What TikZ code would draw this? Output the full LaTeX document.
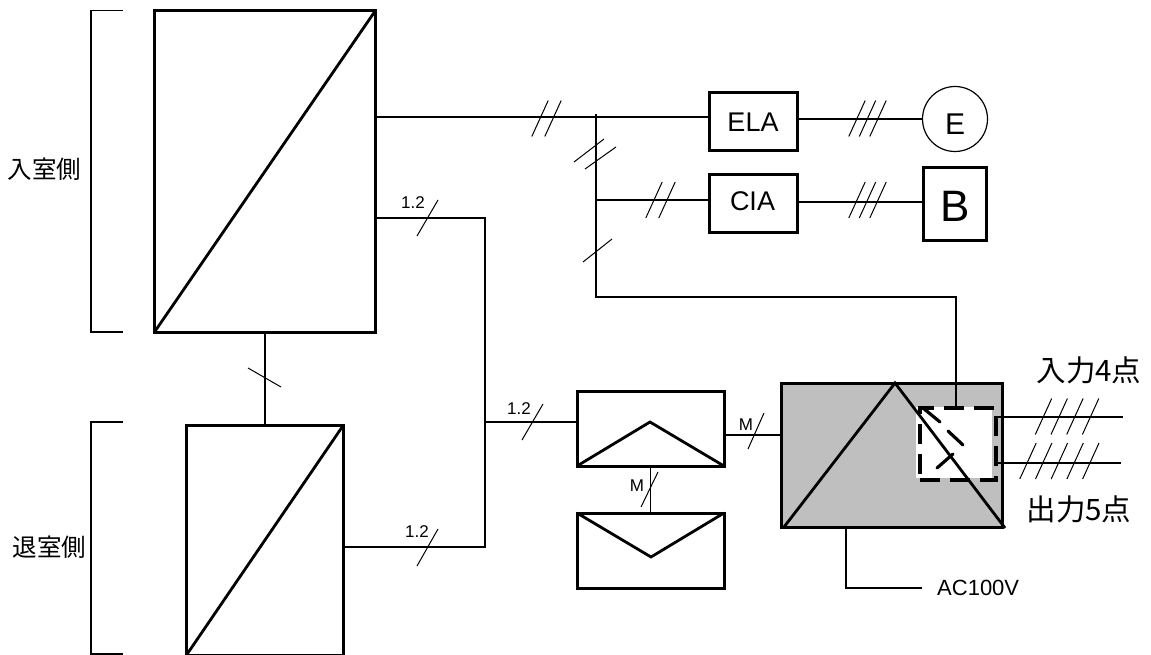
\documentclass[tikz,border=0pt]{standalone}
\usepackage{fontspec}
\setmainfont{Liberation Sans}
\newfontfamily\cjk{Noto Sans CJK JP}
\tikzset{
  thickbox/.style={rectangle,draw=black,line width=3pt,fill=white,inner sep=0pt,outer sep=0pt},
  wire/.style={draw=black,line width=1.2pt},
  slash/.style={draw=black,line width=1pt},
  thickline/.style={draw=black,line width=2.8pt},
  lab/.style={inner sep=0pt,font=\fontsize{17}{20}\selectfont},
  boxtext/.style={inner sep=0pt,font=\fontsize{27}{30}\selectfont},
  side/.style={inner sep=0pt,font=\fontsize{24.5}{27}\cjk},
  big/.style={inner sep=0pt,font=\fontsize{29.5}{32}\cjk},
}
\newcommand{\slashes}[4]{% x of first slash's centre, y, count, step
  \foreach \i in {1,...,#3}{\draw[slash] ({#1+(\i-1)*#4-8.2},{#2+18}) -- ({#1+(\i-1)*#4+8.2},{#2-18});}}
\begin{document}
\begin{tikzpicture}[x=1pt,y=-1pt]
\useasboundingbox (0,0) rectangle (1151,655);
% brackets
\coordinate (bk1a) at (123,10.5); \coordinate (bk1b) at (91,10.5); \coordinate (bk1c) at (91,332); \coordinate (bk1d) at (123,332);
\coordinate (bk2a) at (123,422); \coordinate (bk2b) at (91,422); \coordinate (bk2c) at (91,654); \coordinate (bk2d) at (123,654);
\draw[wire] (bk1a) -- (bk1b) -- (bk1c) -- (bk1d);
\draw[wire] (bk2a) -- (bk2b) -- (bk2c) -- (bk2d);
\node[side] (lin) at (44.7,169) {入室側};
\node[side] (lout) at (49.5,547) {退室側};
% main blocks
\node[thickbox,minimum width=221pt,minimum height=321.5pt] (entry) at (265,171.25) {};
\draw[thickline] (entry.south west) -- (entry.north east);
\node[thickbox,minimum width=157pt,minimum height=230pt] (exit) at (265,540) {};
\draw[thickline] (exit.south west) -- (exit.north east);
\draw[wire] (entry.south) -- (exit.north);
\draw[slash] (248,368) -- (281,387);
% blocks of the top right
\node[thickbox,minimum width=88pt,minimum height=58pt,boxtext] (ela) at (753,122) {ELA};
\node[thickbox,minimum width=88pt,minimum height=58pt,boxtext] (cia) at (753,204) {};
\node[boxtext] (cialab) at (752.5,201.7) {CIA};
\node[circle,draw=black,line width=1.2pt,fill=white,minimum width=65pt,inner sep=0,outer sep=0] (e) at (955,119) {};
\node[inner sep=0,font=\fontsize{30}{34}\selectfont] (elab) at (955,124) {E};
\node[thickbox,minimum width=63pt,minimum height=72pt] (b) at (955,204) {};
\node[inner sep=0,font=\fontsize{44}{48}\selectfont] (blab) at (955,206) {B};
% gray block and the small blocks
\node[rectangle,draw=black,fill=black!25,line width=3pt,minimum width=221pt,minimum height=144pt,inner sep=0,outer sep=0] (proc) at (891.5,455) {};
\node[fill=white,inner sep=0,outer sep=0,minimum width=76pt,minimum height=71pt] (pw) at (954,442.5) {};
\coordinate (apex) at (895,383); \coordinate (procl) at (784,527); \coordinate (procr) at (1005,528);
\draw[thickline] (procl) -- (apex) -- (procr);
\node[draw=black,line width=3.6pt,dash pattern=on 20pt off 10pt,minimum width=76pt,minimum height=72pt,inner sep=0,outer sep=0] (pd) at (958,444) {};
\coordinate (d1) at (923,408); \coordinate (d2) at (940,422); \coordinate (d3) at (948,431); \coordinate (d4) at (963,445);
\coordinate (d5) at (937,468); \coordinate (d6) at (953,454);
\draw[thickline,line width=3.2pt,line cap=round] (d1) -- (d2) (d3) -- (d4) (d5) -- (d6);
\node[thickbox,minimum width=147pt,minimum height=75pt] (up) at (650.5,428.5) {};
\coordinate (uppk) at (650,422);
\draw[thickline] (up.south west) -- (uppk) -- (up.south east);
\node[thickbox,minimum width=147pt,minimum height=75pt] (dn) at (650.5,550.5) {};
\coordinate (dnpk) at (651,557);
\draw[thickline] (dn.north west) -- (dnpk) -- (dn.north east);
% top bus
\coordinate (jt) at (596,117); \coordinate (jtop) at (596,114); \coordinate (jm) at (596,200);
\coordinate (jb) at (596,297); \coordinate (jr) at (956,297); \coordinate (jd) at (956,407);
\draw[wire] (entry.east |- jt) -- (ela.west |- jt);
\draw[wire] (jtop) -- (jb) -- (jr) -- (jd);
\draw[wire] (jm) -- (cia.west |- jm);
\draw[wire] (ela.east |- e.west) -- (e.west);
\coordinate (bw) at (955,202);
\draw[wire] (cia.east |- bw) -- (b.west |- bw);
\slashes{540}{118.5}{2}{13}
\slashes{654}{200}{2}{13}
\slashes{857}{118.5}{3}{10.5}
\slashes{857}{200}{3}{10.5}
\draw[slash] (574,162) -- (604,139);
\draw[slash] (585,169) -- (616,147);
\draw[slash] (583,262) -- (612,239);
% 1.2 routes
\coordinate (r1) at (485,218); \coordinate (r2) at (485,547); \coordinate (r3) at (485,422);
\draw[wire] (entry.east |- r1) -- (r1) -- (r2) -- (exit.east |- r2);
\draw[wire] (r3) -- (up.west |- r3);
\draw[slash] (417,236) -- (438,200);
\draw[slash] (522,440) -- (543,404);
\draw[slash] (417,566) -- (438,529);
\node[lab] (t1) at (413,203) {1.2};
\node[lab] (t2) at (519,409) {1.2};
\node[lab] (t3) at (417,532) {1.2};
% M links
\draw[wire] (up.south) -- (dn.north);
\draw[slash] (641,507) -- (658,472);
\node[lab] (m1) at (637,486) {M};
\coordinate (ml) at (724,435);
\draw[wire] (ml) -- (proc.west |- ml);
\draw[slash] (748,449) -- (764,413);
\node[lab] (m2) at (746,425) {M};
% output lines
\coordinate (o1a) at (997,417); \coordinate (o1b) at (1123,417);
\coordinate (o2a) at (995,463); \coordinate (o2b) at (1121,463);
\draw[wire] (o1a) -- (o1b);
\draw[wire] (o2a) -- (o2b);
\slashes{1043.5}{416.5}{4}{15.7}
\slashes{1028}{461}{5}{15.7}
\node[big] (in4) at (1089,370.5) {入力4点};
\node[big] (out5) at (1079,509) {出力5点};
% AC line
\coordinate (ac1) at (846,527); \coordinate (ac2) at (846,588); \coordinate (ac3) at (922,588);
\draw[wire] (ac1) -- (ac2) -- (ac3);
\node[inner sep=0,anchor=west,font=\fontsize{22}{24}\selectfont] (ac) at (937,588) {AC100V};
\end{tikzpicture}
\end{document}
